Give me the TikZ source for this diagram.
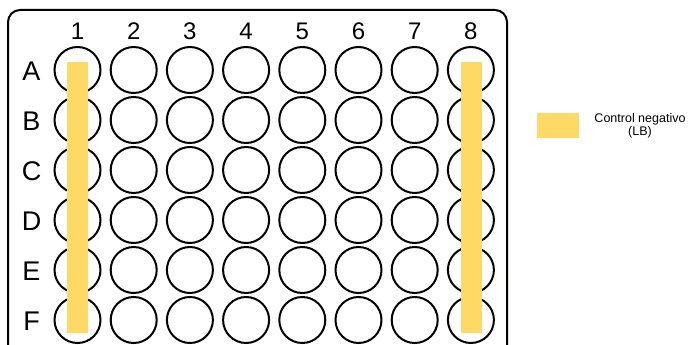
\documentclass[tikz,border=0pt]{standalone}
\usepackage{fontspec}
\setmainfont{Liberation Sans}
\usepackage{tikz}
\definecolor{ctrl}{HTML}{FFD966}

\begin{document}
\begin{tikzpicture}[x=1pt,y=-1pt,
    well/.style={draw,circle,line width=2pt,minimum size=46pt,inner sep=0pt},
    lbl/.style={font=\fontsize{24}{28}\selectfont,inner sep=0pt},
    rlbl/.style={font=\fontsize{27}{30}\selectfont,inner sep=0pt}]
    \useasboundingbox (0,0) rectangle (689,345);
    % plate outline, cut off at the bottom
    \draw[line width=2pt,rounded corners=12pt] (8,345) |- (507,10) -- (507,345);
    % wells and labels
    \foreach \c in {1,...,8}
        \node[lbl] at({77.5+56.2*(\c-1)},31)(col\c){\c};
    \foreach \r [count=\i] in {A,B,C,D,E,F}{
        \node[rlbl] at(31.5,{71+50*(\i-1)})(row\r){\r};
        \foreach \c in {1,...,8}
            \node[well] at({77.5+56.2*(\c-1)},{70+50*(\i-1)})(w\r\c){};
    }
    % negative control columns
    \fill[ctrl] (67,62) rectangle (88,333);
    \fill[ctrl] (461,62) rectangle (482,333);
    % legend
    \fill[ctrl] (537,113) rectangle (579,138);
    \node[align=center,font=\fontsize{12.5}{13}\selectfont] at(640,126)(leg){Control negativo\\(LB)};
\end{tikzpicture}
\end{document}
